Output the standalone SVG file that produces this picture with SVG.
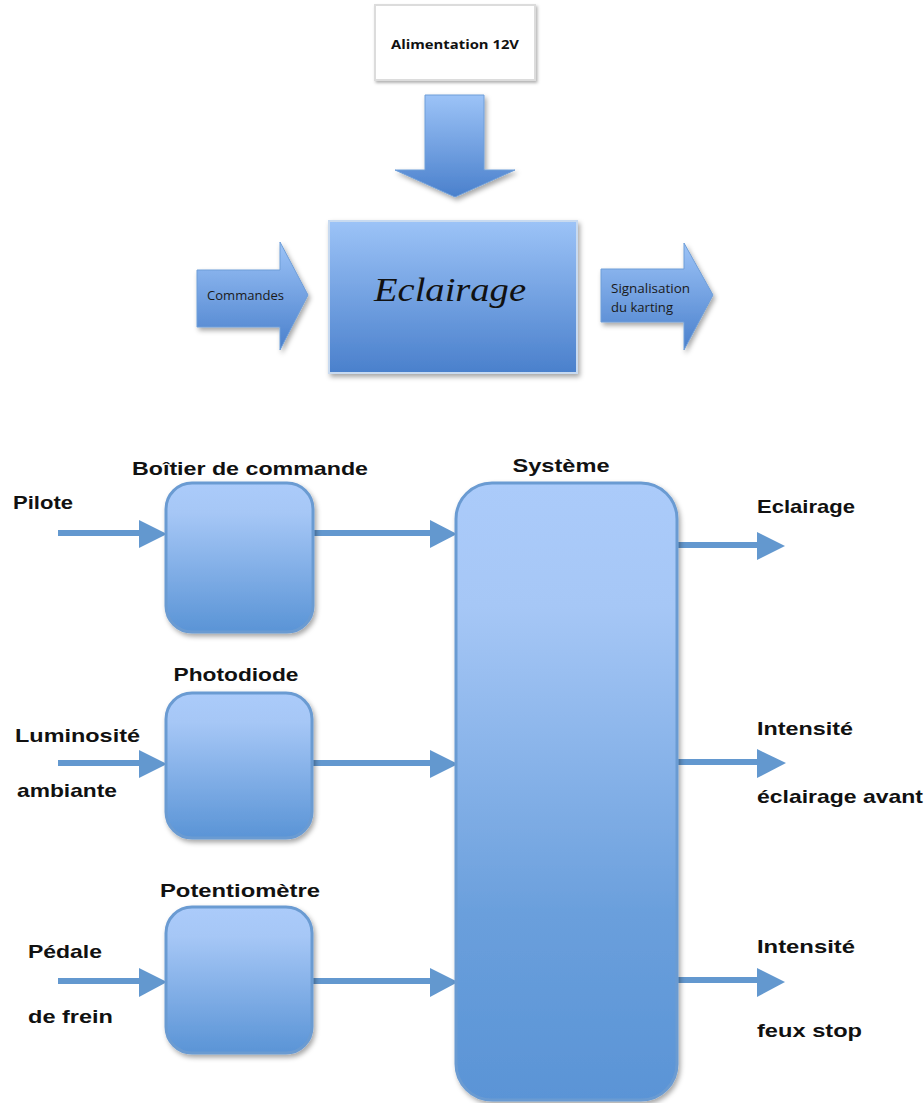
<svg xmlns="http://www.w3.org/2000/svg" width="924" height="1103" viewBox="0 0 924 1103">
<defs>
  <linearGradient id="gTop" x1="0" y1="0" x2="0" y2="1">
    <stop offset="0" stop-color="#9cc3f7"/>
    <stop offset="1" stop-color="#4a80cc"/>
  </linearGradient>
  <linearGradient id="gBox" x1="0" y1="0" x2="0" y2="1">
    <stop offset="0" stop-color="#abcbfa"/>
    <stop offset="0.2" stop-color="#a6c7f6"/>
    <stop offset="1" stop-color="#5a94d6"/>
  </linearGradient>
  <linearGradient id="gSys" x1="0" y1="0" x2="0" y2="1">
    <stop offset="0" stop-color="#abcbfa"/>
    <stop offset="0.2" stop-color="#a6c7f6"/>
    <stop offset="0.7" stop-color="#6a9fdc"/>
    <stop offset="1" stop-color="#5a94d6"/>
  </linearGradient>
  <filter id="sh" x="-20%" y="-20%" width="150%" height="150%">
    <feDropShadow dx="2" dy="3" stdDeviation="2.5" flood-color="#000" flood-opacity="0.35"/>
  </filter>
  <filter id="shs" x="-20%" y="-50%" width="150%" height="200%">
    <feDropShadow dx="1.5" dy="2" stdDeviation="1.5" flood-color="#000" flood-opacity="0.3"/>
  </filter>
  <style>
    .lbl { font-family: "Liberation Sans", Arial, sans-serif; font-weight: bold; font-size: 19px; fill: #111; }
    .cal { font-family: "Open Sans", "Liberation Sans", sans-serif; font-size: 12px; fill: #1a1a1a; }
    .box { fill: url(#gBox); stroke: #6b9bd2; stroke-width: 3; filter: url(#sh); }
    .ln { stroke: #6398cf; stroke-width: 6; fill: none; }
    .hd { fill: #6398cf; }
    .bigarrow { fill: url(#gTop); stroke: #6f9ed8; stroke-width: 1; filter: url(#sh); }
  </style>
</defs>

<g id="alimentation">
  <rect x="375" y="5" width="160" height="75" fill="#fff" stroke="#dcdcdc" stroke-width="2" filter="url(#shs)"/>
  <text x="455" y="49" text-anchor="middle" font-family="'Open Sans', 'Liberation Sans', sans-serif" font-weight="bold" font-size="13" fill="#111" textLength="128" lengthAdjust="spacingAndGlyphs">Alimentation 12V</text>
</g>

<g id="eclairage-main">
  <rect x="329" y="221" width="248" height="152" fill="url(#gTop)" stroke="#c8daf0" stroke-width="2" filter="url(#sh)"/>
  <text x="450" y="301" text-anchor="middle" font-family="'Liberation Serif', 'DejaVu Serif', serif" font-style="italic" font-size="34" fill="#111" textLength="152" lengthAdjust="spacingAndGlyphs">Eclairage</text>
</g>

<g id="commandes">
  <polygon class="bigarrow" points="197,270 280,270 280,242 308,295 280,350 280,327 197,327"/>
  <text x="207" y="300" class="cal" textLength="77" lengthAdjust="spacingAndGlyphs">Commandes</text>
</g>

<g id="signalisation">
  <polygon class="bigarrow" points="601,269 684,269 684,243 713,295 684,350 684,322 601,322"/>
  <text x="611" y="293" class="cal" textLength="79" lengthAdjust="spacingAndGlyphs">Signalisation</text>
  <text x="611" y="312" class="cal" textLength="62" lengthAdjust="spacingAndGlyphs">du karting</text>
</g>

<g id="connectors">
  <!-- top power arrow -->
  <polygon class="bigarrow" points="425,95 484,95 484,170 515,170 455,197 395,170 425,170"/>
  <!-- Pilote -->
  <line class="ln" x1="58" y1="533" x2="141" y2="533"/>
  <polygon class="hd" points="139,520 167,534 139,548"/>
  <line class="ln" x1="313" y1="533" x2="432" y2="533"/>
  <polygon class="hd" points="430,520 457,534 430,548"/>
  <!-- Luminosite -->
  <line class="ln" x1="58" y1="763" x2="141" y2="763"/>
  <polygon class="hd" points="139,750 167,764 139,778"/>
  <line class="ln" x1="312" y1="763" x2="432" y2="763"/>
  <polygon class="hd" points="430,750 458,764 430,778"/>
  <!-- Pedale -->
  <line class="ln" x1="58" y1="981" x2="141" y2="981"/>
  <polygon class="hd" points="139,968 167,982 139,997"/>
  <line class="ln" x1="312" y1="981" x2="432" y2="981"/>
  <polygon class="hd" points="430,968 458,982 430,997"/>
  <!-- outputs -->
  <line class="ln" x1="677" y1="545" x2="759" y2="545"/>
  <polygon class="hd" points="757,532 785,546 757,560"/>
  <line class="ln" x1="677" y1="762" x2="759" y2="762"/>
  <polygon class="hd" points="757,749 786,763 757,778"/>
  <line class="ln" x1="677" y1="980" x2="759" y2="980"/>
  <polygon class="hd" points="757,968 785,982 757,997"/>
</g>

<g id="boitier">
  <rect class="box" x="166" y="483" width="147" height="149" rx="26"/>
  <text class="lbl" x="250" y="475" text-anchor="middle" textLength="236" lengthAdjust="spacingAndGlyphs">Boîtier de commande</text>
</g>

<g id="photodiode">
  <rect class="box" x="166" y="693" width="146" height="145" rx="26"/>
  <text class="lbl" x="236" y="681" text-anchor="middle" textLength="125" lengthAdjust="spacingAndGlyphs">Photodiode</text>
</g>

<g id="potentiometre">
  <rect class="box" x="166" y="907" width="146" height="146" rx="26"/>
  <text class="lbl" x="240" y="897" text-anchor="middle" textLength="160" lengthAdjust="spacingAndGlyphs">Potentiomètre</text>
</g>

<g id="systeme">
  <rect x="456" y="483" width="221" height="617" rx="36" fill="url(#gSys)" stroke="#6b9bd2" stroke-width="3" filter="url(#sh)"/>
  <text class="lbl" x="561" y="472" text-anchor="middle" textLength="97" lengthAdjust="spacingAndGlyphs">Système</text>
</g>

<g id="labels">
  <text class="lbl" x="13" y="509" textLength="60" lengthAdjust="spacingAndGlyphs">Pilote</text>
  <text class="lbl" x="15" y="742" textLength="125" lengthAdjust="spacingAndGlyphs">Luminosité</text>
  <text class="lbl" x="17" y="797" textLength="100" lengthAdjust="spacingAndGlyphs">ambiante</text>
  <text class="lbl" x="28" y="958" textLength="74" lengthAdjust="spacingAndGlyphs">Pédale</text>
  <text class="lbl" x="28" y="1023" textLength="85" lengthAdjust="spacingAndGlyphs">de frein</text>
  <text class="lbl" x="757" y="513" textLength="98" lengthAdjust="spacingAndGlyphs">Eclairage</text>
  <text class="lbl" x="757" y="735" textLength="96" lengthAdjust="spacingAndGlyphs">Intensité</text>
  <text class="lbl" x="757" y="803" textLength="166" lengthAdjust="spacingAndGlyphs">éclairage avant</text>
  <text class="lbl" x="757" y="953" textLength="98" lengthAdjust="spacingAndGlyphs">Intensité</text>
  <text class="lbl" x="757" y="1037" textLength="105" lengthAdjust="spacingAndGlyphs">feux stop</text>
</g>
</svg>
